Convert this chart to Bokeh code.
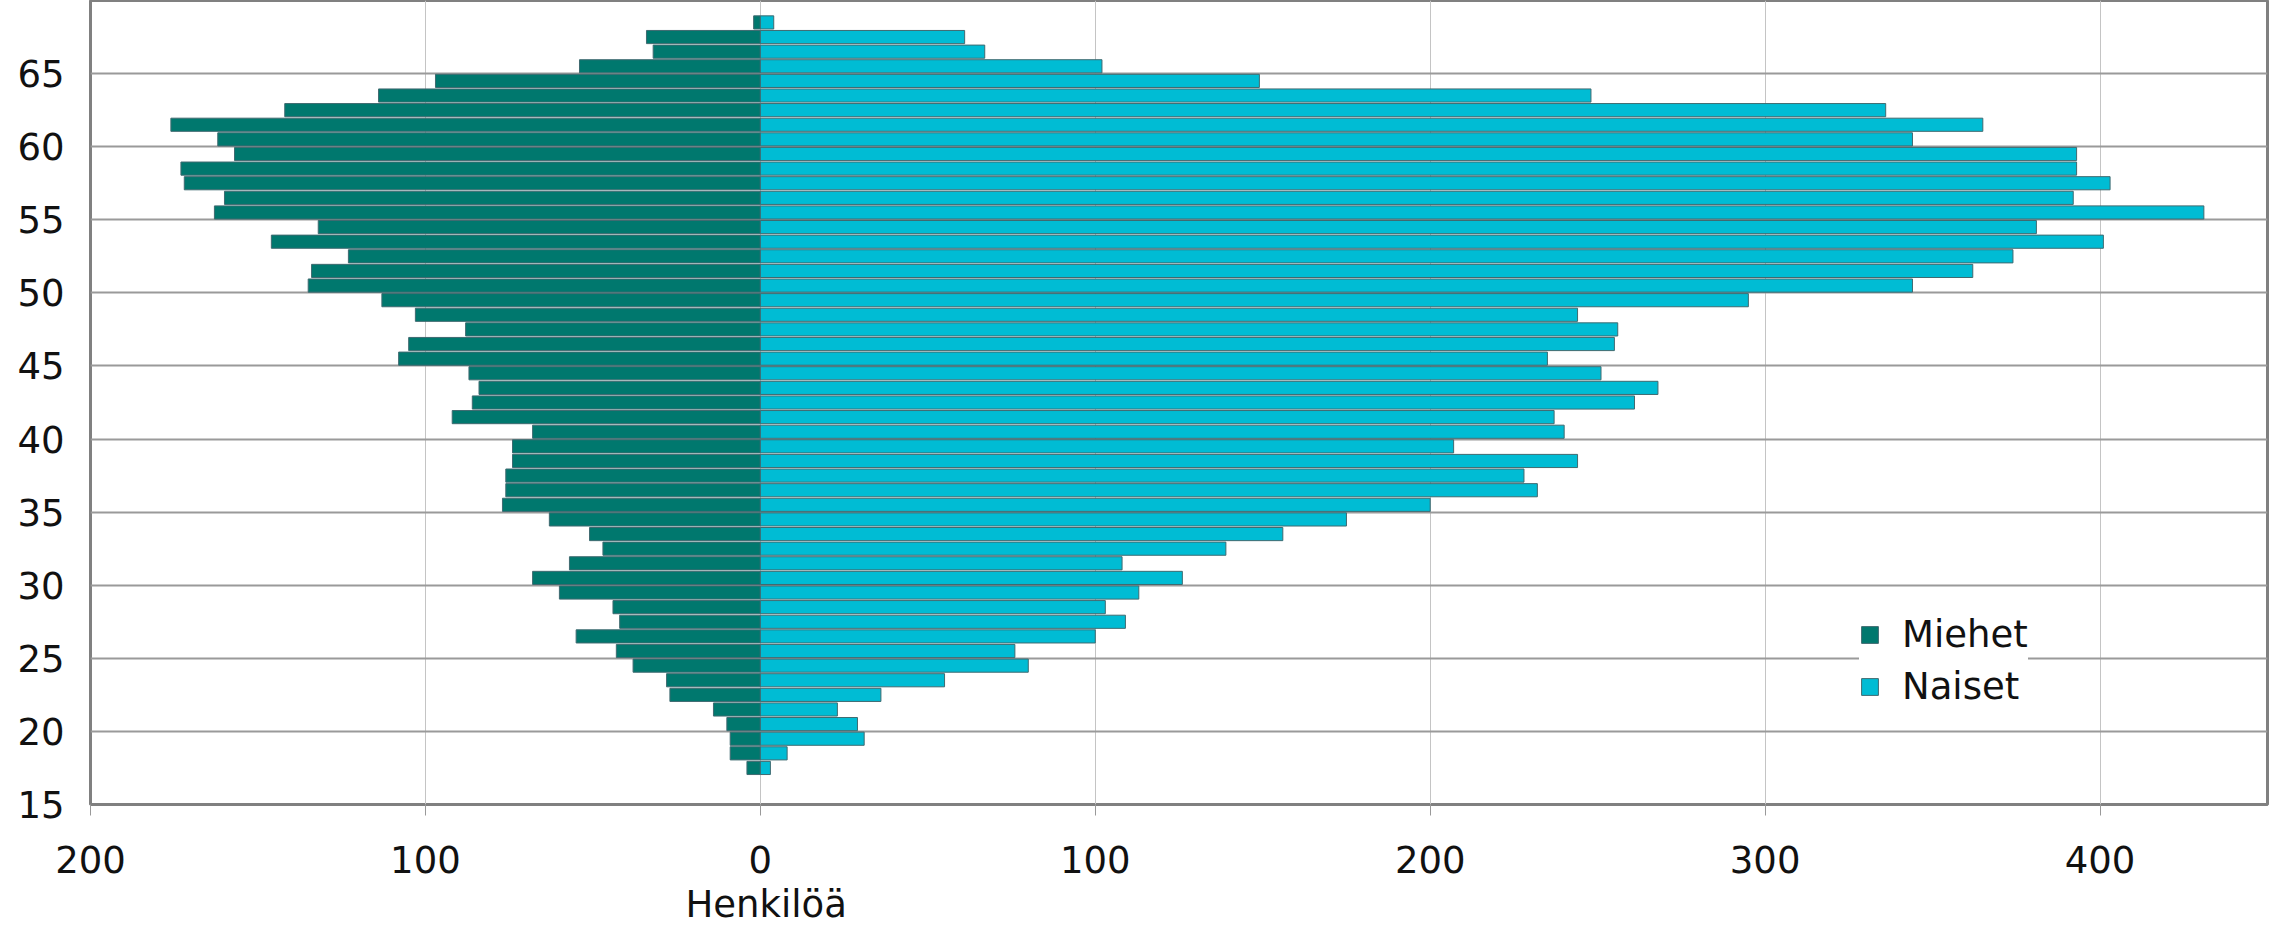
import numpy as np
from bokeh.plotting import figure
from bokeh.models import FixedTicker, Legend, LegendItem, Range1d, Title
from bokeh.embed import file_html
from bokeh.resources import INLINE

ages = list(range(17, 69))
men = [4, 9, 9, 10, 14, 27, 28, 38, 43, 55, 42, 44, 60, 68, 57, 47, 51, 63, 77, 76,
       76, 74, 74, 68, 92, 86, 84, 87, 108, 105, 88, 103, 113, 135, 134, 123, 146, 132,
       163, 160, 172, 173, 157, 162, 176, 142, 114, 97, 54, 32, 34, 2]
women = [3, 8, 31, 29, 23, 36, 55, 80, 76, 100, 109, 103, 113, 126, 108, 139, 156, 175,
         200, 232, 228, 244, 207, 240, 237, 261, 268, 251, 235, 255, 256, 244, 295, 344,
         362, 374, 401, 381, 431, 392, 403, 393, 393, 344, 365, 336, 248, 149, 102, 67, 61, 4]
x_ticks = [-200, -100, 0, 100, 200, 300, 400]
x_tick_labels = ["200", "100", "0", "100", "200", "300", "400"]
y_ticks = [15, 20, 25, 30, 35, 40, 45, 50, 55, 60, 65]
series_names = ["Miehet", "Naiset"]
axis_title = "Henkilöä"

FONT = "DejaVu Sans"
FS = "37px"
MEN_COLOR = "#00786e"
WOMEN_COLOR = "#00bcd4"
EDGE = "#3f6a70"

p = figure(width=2269, height=934, output_backend="svg", toolbar_location=None,
           x_range=Range1d(-200, 450), y_range=Range1d(15, 70),
           min_border_left=90, min_border_right=2, min_border_top=0, min_border_bottom=130)

yc = np.array(ages) + 0.5
r_m = p.hbar(y=yc, left=-np.array(men), right=0, height=0.9,
             fill_color=MEN_COLOR, line_color=EDGE, line_width=1)
r_w = p.hbar(y=yc, left=0, right=np.array(women), height=0.9,
             fill_color=WOMEN_COLOR, line_color=EDGE, line_width=1)

p.outline_line_color = "#808080"
p.outline_line_width = 3

p.xaxis.ticker = FixedTicker(ticks=x_ticks)
p.xaxis.major_label_overrides = {t: l for t, l in zip(x_ticks, x_tick_labels)}
p.yaxis.ticker = FixedTicker(ticks=y_ticks)

for ax in (p.xaxis[0], p.yaxis[0]):
    ax.axis_line_color = None
    ax.minor_tick_line_color = None
    ax.major_label_text_font = FONT
    ax.major_label_text_font_size = FS
    ax.major_label_text_color = "#111111"

p.xaxis.major_tick_out = 11
p.xaxis.major_tick_in = 0
p.xaxis.major_tick_line_color = "#999999"
p.xaxis.major_label_standoff = 30
p.yaxis.major_tick_line_color = None
p.yaxis.major_label_standoff = 20

p.xgrid.ticker = FixedTicker(ticks=x_ticks)
p.xgrid.grid_line_color = "#c4c4c4"
p.xgrid.grid_line_width = 1
p.ygrid.ticker = FixedTicker(ticks=y_ticks)
p.ygrid.grid_line_color = "#9a9a9a"
p.ygrid.grid_line_width = 2

p.add_layout(Title(text=axis_title, align="left", offset=595, text_font=FONT,
                   text_font_size=FS, text_font_style="normal", text_color="#111111",
                   standoff=11), "below")

legend = Legend(items=[LegendItem(label=series_names[0], renderers=[r_m]),
                       LegendItem(label=series_names[1], renderers=[r_w])],
                location=(1769, 96), label_text_font=FONT, label_text_font_size=FS,
                label_text_color="#111111", glyph_width=21, glyph_height=21,
                label_height=42, spacing=9, padding=28, margin=0, label_standoff=22,
                border_line_color=None, background_fill_color="white", background_fill_alpha=1)
p.add_layout(legend)

open("out.html", "w").write(file_html(p, INLINE))
